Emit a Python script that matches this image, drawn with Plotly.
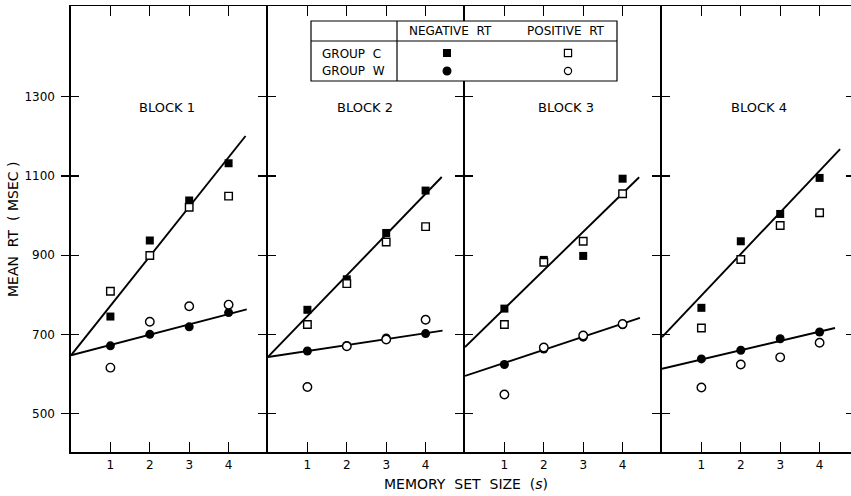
import plotly.graph_objects as go

# ---------------- data ----------------
blocks = ["BLOCK 1", "BLOCK 2", "BLOCK 3", "BLOCK 4"]
set_size = [1, 2, 3, 4]

# Group C (squares)
neg_c = [[745, 937, 1038, 1132],
         [762, 839, 956, 1063],
         [765, 888, 898, 1093],
         [767, 935, 1004, 1095]]
pos_c = [[809, 899, 1021, 1049],
         [725, 828, 933, 972],
         [725, 882, 935, 1055],
         [716, 889, 975, 1007]]
# Group W (circles)
neg_w = [[671, 700, 719, 755],
         [658, 672, 691, 702],
         [624, 663, 693, 724],
         [638, 660, 689, 706]]
pos_w = [[616, 732, 771, 775],
         [567, 670, 687, 737],
         [548, 667, 697, 726],
         [566, 624, 642, 679]]

# fitted lines: intercept, slope and last set size drawn
fit_c_intercept = [647, 643, 668, 693]
fit_c_slope = [125, 103, 97, 105]
fit_c_xend = [4.43, 4.41, 4.42, 4.52]
fit_w_intercept = [647, 643, 595, 613]
fit_w_slope = [26, 15, 33, 23.5]
fit_w_xend = [4.46, 4.43, 4.44, 4.39]

y_ticks = [500, 700, 900, 1100, 1300]
x_ticks = [1, 2, 3, 4]
x_ticktext = ["1", "2", "3", "4"]

# ---------------- layout geometry ----------------
W, H = 851, 496
ML, MR, MT, MB = 71, 0, 6, 44
PW, PH = W - ML - MR, H - MT - MB
UNIT = 39.4                      # px per set-size unit
bounds_px = [0, 197, 394, 591, PW]
Y_RANGE = [403, 1529]
FONT = "DejaVu Sans"
BLACK = "black"


def px_x(px):
    return (px - ML) / PW


def px_y(py):
    return (MT + PH - py) / PH


fig = go.Figure()
layout = dict(
    width=W, height=H,
    margin=dict(l=ML, r=MR, t=MT, b=MB),
    paper_bgcolor="white", plot_bgcolor="white",
    showlegend=False,
    font=dict(family=FONT, color=BLACK),
)

block_label_x = [2.44, 2.47, 2.56, 2.47]
annotations = []


def tick_axis(overlay, anchor, side, ticklen):
    return dict(overlaying=overlay, anchor=anchor, side=side, range=Y_RANGE,
                showline=False, ticks="inside", ticklen=ticklen, tickwidth=1.2,
                tickcolor=BLACK, tickvals=y_ticks, showticklabels=False,
                showgrid=False, zeroline=False, fixedrange=True)


for i in range(4):
    n = i + 1
    xa = "x" if n == 1 else f"x{n}"
    ya = "y" if n == 1 else f"y{n}"

    # fitted lines
    for a, b, xe in ((fit_c_intercept[i], fit_c_slope[i], fit_c_xend[i]),
                     (fit_w_intercept[i], fit_w_slope[i], fit_w_xend[i])):
        fig.add_trace(go.Scatter(x=[0, xe], y=[a, a + b * xe], mode="lines",
                                 line=dict(color=BLACK, width=1.9),
                                 xaxis=xa, yaxis=ya, hoverinfo="skip"))
    # filled markers (negative RT)
    fig.add_trace(go.Scatter(x=set_size, y=neg_c[i], mode="markers",
                             marker=dict(symbol="square", size=8, color=BLACK),
                             xaxis=xa, yaxis=ya))
    fig.add_trace(go.Scatter(x=set_size, y=neg_w[i], mode="markers",
                             marker=dict(symbol="circle", size=9, color=BLACK),
                             xaxis=xa, yaxis=ya))
    # open markers (positive RT)
    fig.add_trace(go.Scatter(x=set_size, y=pos_c[i], mode="markers",
                             marker=dict(symbol="square", size=7.5, color="white",
                                         line=dict(color=BLACK, width=1.4)),
                             xaxis=xa, yaxis=ya))
    fig.add_trace(go.Scatter(x=set_size, y=pos_w[i], mode="markers",
                             marker=dict(symbol="circle", size=8.5, color="white",
                                         line=dict(color=BLACK, width=1.4)),
                             xaxis=xa, yaxis=ya))

    dom = [bounds_px[i] / PW, bounds_px[i + 1] / PW]
    width_units = (bounds_px[i + 1] - bounds_px[i]) / UNIT
    layout["xaxis" if n == 1 else f"xaxis{n}"] = dict(
        domain=dom, range=[0, width_units], anchor=ya,
        showline=True, linecolor=BLACK, linewidth=1.5, mirror="ticks",
        ticks="inside", ticklen=10, tickwidth=1.2, tickcolor=BLACK,
        tickvals=x_ticks, ticktext=x_ticktext,
        tickfont=dict(size=12, family=FONT, color=BLACK),
        ticklabelstandoff=1,
        showgrid=False, zeroline=False, fixedrange=True,
    )
    # each panel draws only its left edge line; ticks cross that line
    layout["yaxis" if n == 1 else f"yaxis{n}"] = dict(
        domain=[0, 1], range=Y_RANGE, anchor=xa,
        showline=True, linecolor=BLACK, linewidth=1.6, mirror=False,
        ticks="outside", ticklen=8, tickwidth=1.2, tickcolor=BLACK,
        tickvals=y_ticks, showticklabels=(n == 1),
        tickfont=dict(size=12, family=FONT, color=BLACK),
        ticklabelstandoff=4,
        showgrid=False, zeroline=False, fixedrange=True,
    )
    # inward half of the crossing ticks
    ov = f"y{n + 4}"
    fig.add_trace(go.Scatter(x=[None], y=[None], xaxis=xa, yaxis=ov, hoverinfo="skip"))
    layout[f"yaxis{n + 4}"] = tick_axis(ya, xa, "left", 8)

    annotations.append(dict(
        x=block_label_x[i], y=1272, xref=xa, yref=ya, text=blocks[i],
        showarrow=False, font=dict(size=13, family=FONT, color=BLACK),
        xanchor="center", yanchor="middle"))

# inward ticks on the far right edge
fig.add_trace(go.Scatter(x=[None], y=[None], xaxis="x4", yaxis="y9", hoverinfo="skip"))
layout["yaxis9"] = tick_axis("y4", "x4", "right", 5)

# axis titles
annotations.append(dict(x=px_x(13), y=px_y(230), xref="paper", yref="paper",
                        text="MEAN  RT  ( MSEC )", textangle=-90, showarrow=False,
                        font=dict(size=14, family=FONT, color=BLACK),
                        xanchor="center", yanchor="middle"))
annotations.append(dict(x=px_x(466), y=px_y(484), xref="paper", yref="paper",
                        text="MEMORY  SET  SIZE  (<i>s</i>)", showarrow=False,
                        font=dict(size=14, family=FONT, color=BLACK),
                        xanchor="center", yanchor="middle"))

# ---------------- legend table ----------------
bx0, bx1, by0, by1 = 311, 617, 21, 81
shapes = [
    dict(type="rect", xref="paper", yref="paper", layer="above",
         x0=px_x(bx0), x1=px_x(bx1), y0=px_y(by1), y1=px_y(by0),
         fillcolor="white", line=dict(color=BLACK, width=1.2)),
    dict(type="line", xref="paper", yref="paper", layer="above",
         x0=px_x(bx0), x1=px_x(bx1), y0=px_y(41), y1=px_y(41),
         line=dict(color=BLACK, width=1.2)),
    dict(type="line", xref="paper", yref="paper", layer="above",
         x0=px_x(397), x1=px_x(397), y0=px_y(by1), y1=px_y(by0),
         line=dict(color=BLACK, width=1.2)),
]


def key_shape(cx, cy, kind, filled, r=3.5):
    return dict(type=kind, xref="paper", yref="paper", layer="above",
                xsizemode="pixel", ysizemode="pixel",
                xanchor=px_x(cx), yanchor=px_y(cy),
                x0=-r, x1=r, y0=-r, y1=r,
                fillcolor=BLACK if filled else "white",
                line=dict(color=BLACK, width=1.2))


shapes += [key_shape(447, 53, "rect", True, 3.4),
           key_shape(447, 71, "circle", True, 3.9),
           key_shape(568, 53, "rect", False, 3.6),
           key_shape(568, 71, "circle", False, 3.6)]

for txt, cx, cy, anchor in (("NEGATIVE  RT", 450, 31, "center"),
                            ("POSITIVE  RT", 566, 31, "center"),
                            ("GROUP  C", 320, 54, "left"),
                            ("GROUP  W", 320, 71, "left")):
    annotations.append(dict(x=px_x(cx), y=px_y(cy), xref="paper", yref="paper",
                            text=txt, showarrow=False, xanchor=anchor,
                            yanchor="middle",
                            font=dict(size=12, family=FONT, color=BLACK)))

layout["shapes"] = shapes
layout["annotations"] = annotations
fig.update_layout(**layout)
fig.write_html("out.html",
               config={"displayModeBar": False, "staticPlot": True},
               post_script="document.body.style.margin='0';"
                           "document.body.style.overflow='hidden';")
